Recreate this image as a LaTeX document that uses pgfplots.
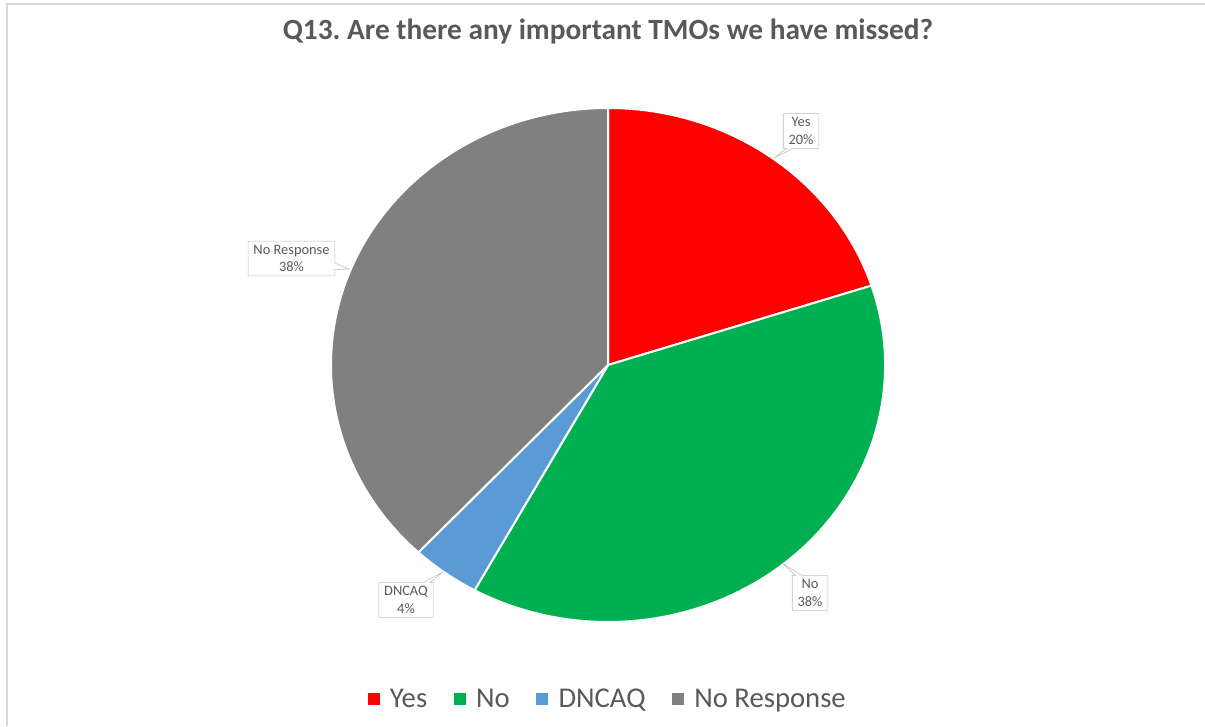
\documentclass[border=0pt]{standalone}
\usepackage{fontspec}
\setmainfont{Carlito}
\usepackage{pgfplots}
\pgfplotsset{compat=1.18}
\usepackage{pgfplotstable}
\usetikzlibrary{shapes.callouts}

\definecolor{cYes}{HTML}{FF0000}
\definecolor{cNo}{HTML}{00B050}
\definecolor{cDnc}{HTML}{5B9BD5}
\definecolor{cNr}{HTML}{808080}
\definecolor{cText}{HTML}{595959}
\definecolor{cBorder}{HTML}{BFBFBF}
\definecolor{cFrame}{HTML}{D9D9D9}

% shares in percent, clockwise from 12 o'clock
\pgfplotstableread[col sep=comma]{
label,share
Yes,20
No,38
DNCAQ,4
No Response,38
}\shares

\pgfplotstablegetelem{0}{share}\of\shares \let\vA\pgfplotsretval
\pgfplotstablegetelem{1}{share}\of\shares \let\vB\pgfplotsretval
\pgfplotstablegetelem{2}{share}\of\shares \let\vC\pgfplotsretval
\pgfplotstablegetelem{3}{share}\of\shares \let\vD\pgfplotsretval
\pgfmathsetmacro\aA{90}
\pgfmathsetmacro\aB{\aA-3.6*\vA}
\pgfmathsetmacro\aC{\aB-3.6*\vB}
\pgfmathsetmacro\aD{\aC-3.6*\vC}
\pgfmathsetmacro\aE{\aD-3.6*\vD}

\def\rx{207.75pt}
\def\ry{192.75pt}
\newcommand\slice[3]{%
  \filldraw[fill=#3, draw=white, line width=1.5pt, line join=round]
    (axis cs:0,0) -- (axis cs:{cos(#1)},{sin(#1)})
    arc[start angle=#1, end angle=#2, x radius=\rx, y radius=\ry] -- cycle;}

\tikzset{lbl/.style={rectangle callout, draw=cBorder, fill=white, text=cText,
  align=center, font=\fontsize{10.8}{13}\selectfont, inner xsep=4pt, inner ysep=3pt,
  callout pointer width=5pt}}

\begin{document}
\frenchspacing
\begin{tikzpicture}[x=0.75pt, y=0.75pt]
\path[use as bounding box] (0,0) rectangle (1205,726);
\draw[cFrame, line width=1.2pt] (7,0) -- (7,722) -- (1205,722);

\node[font=\bfseries\fontsize{22}{26}\selectfont, text=cText, anchor=base]
  at (608,686) {Q13. Are there any important TMOs we have missed?};

\begin{axis}[
  at={(456pt,270.75pt)}, anchor=origin,
  x=\rx, y=\ry,
  xmin=-1, xmax=1, ymin=-1, ymax=1,
  hide axis, clip=false,
  legend columns=4,
  legend style={at={(0.5,-0.15)}, anchor=center, draw=none, fill=none,
    font=\fontsize{21.5}{24}\selectfont, text=cText,
    /tikz/every even column/.append style={column sep=18pt},
    /tikz/every odd column/.append style={column sep=6pt}},
]
\slice{\aA}{\aB}{cYes}
\slice{\aB}{\aC}{cNo}
\slice{\aC}{\aD}{cDnc}
\slice{\aD}{\aE}{cNr}

\addlegendimage{legend image code/.code={\fill[cYes] (0pt,-4.1pt) rectangle (8.25pt,4.1pt);}}
\addlegendentry{Yes}
\addlegendimage{legend image code/.code={\fill[cNo] (0pt,-4.1pt) rectangle (8.25pt,4.1pt);}}
\addlegendentry{No}
\addlegendimage{legend image code/.code={\fill[cDnc] (0pt,-4.1pt) rectangle (8.25pt,4.1pt);}}
\addlegendentry{DNCAQ}
\addlegendimage{legend image code/.code={\fill[cNr] (0pt,-4.1pt) rectangle (8.25pt,4.1pt);}}
\addlegendentry{No Response}
\end{axis}

\node[lbl, callout absolute pointer={(774,568)}] at (801,595) {Yes\\20\%};
\node[lbl, callout absolute pointer={(782,163)}] at (810,133) {No\\38\%};
\node[lbl, callout absolute pointer={(443,154)}] at (406,126) {DNCAQ\\4\%};
\node[lbl, callout absolute pointer={(349,457)}] at (291.5,467.5) {No Response\\38\%};
\end{tikzpicture}
\end{document}
